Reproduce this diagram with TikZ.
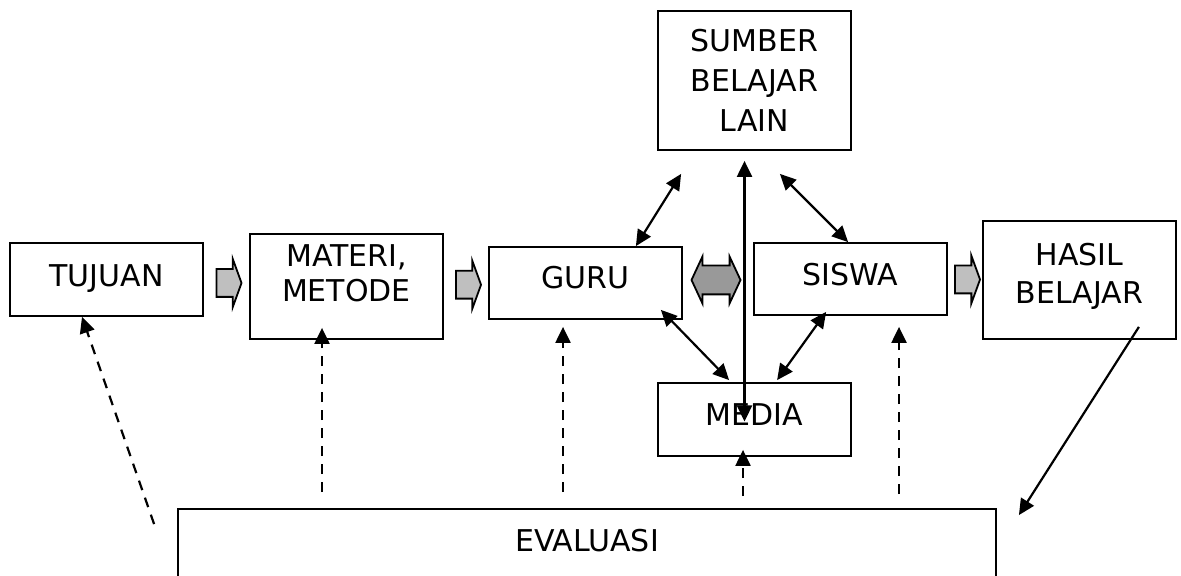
\documentclass[tikz,border=0pt]{standalone}
\usepackage{fontspec}
\setmainfont{DejaVu Sans}
\usetikzlibrary{calc, arrows.meta, shapes.arrows}

\begin{document}
\begin{tikzpicture}[x=0.5pt, y=-0.5pt,
    >={Triangle[length=8pt, width=7.5pt]},
    box/.style={draw, line width=0.9pt, minimum width=96.5pt, align=center, font=\fontsize{15}{19}\selectfont},
    flow/.style={single arrow, draw, fill=gray!50, line width=0.9pt, inner xsep=0pt, inner ysep=6.5pt,
      minimum height=12.5pt, single arrow head extend=5pt, single arrow tip angle=140},
    link/.style={line width=1.1pt},
    check/.style={->, line width=1.1pt, dash pattern=on 5pt off 4pt}]

  \useasboundingbox (0,0) rectangle (1181,576);

  % main row
  \node[box, minimum height=36.5pt, text depth=3.5pt] (tujuan) at (106.5,279.5) {TUJUAN};
  \node[box, minimum height=52.5pt, text depth=13pt, font=\fontsize{15}{17.5}\selectfont] (materi) at (346.5,286.5) {MATERI,\\METODE};
  \node[box, minimum height=36pt, text depth=5.5pt] (guru) at (585.5,283) {GURU};
  \node[box, minimum height=36pt, text depth=4.5pt] (siswa) at (850.5,279) {SISWA};
  \node[box, minimum height=59pt, text depth=7pt] (hasil) at (1079.5,280) {HASIL\\BELAJAR};

  % sources above and below
  \node[box, minimum height=69.5pt, text depth=0pt, font=\fontsize{15}{20}\selectfont] (sumber) at (754.5,80.5) {SUMBER\\BELAJAR\\LAIN};
  \node[box, minimum height=36.5pt, text depth=5pt] (media) at (754.5,419.5) {MEDIA};
  \node[box, minimum width=409pt, minimum height=45.5pt, text depth=14.5pt] (eval) at (587,554.5) {EVALUASI};

  % block arrows between the boxes
  \node[flow] (f1) at ($(tujuan.east)!0.5!(materi.west)$) {};
  \node[flow] (f2) at ($(materi.east)!0.5!(guru.west)$) {};
  \node[flow] (f3) at ($(siswa.east)!0.5!(hasil.west)$) {};
  \node[double arrow, draw, fill=gray!80, line width=0.9pt, inner xsep=0pt, inner ysep=6.75pt, minimum height=24.5pt,
    double arrow head extend=4.5pt, double arrow tip angle=130] (gs) at ($(guru.east)!0.5!(siswa.west)+(-2,-1)$) {};

  % interaction
  \draw[link, <->] ([xshift=12pt, yshift=-11.5pt]sumber.south west) -- ([xshift=-23.5pt]guru.north east);
  \draw[link, <->] ([xshift=-36pt, yshift=-11.5pt]sumber.south east) -- ([xshift=47.5pt]siswa.north west);
  \draw[link, <->] ([xshift=-5pt, yshift=-1pt]media.center) -- ([xshift=-5pt, yshift=-5pt]sumber.south);
  \draw[link, <->] ([xshift=-11pt, yshift=5pt]guru.south east) -- ([xshift=36pt, yshift=1pt]media.north west);
  \draw[link, <->] ([xshift=36.5pt, yshift=2pt]siswa.south west) -- ([xshift=60pt, yshift=1pt]media.north west);
  \draw[link, ->] ([xshift=-19pt, yshift=6.5pt]hasil.south east) -- ([xshift=11pt, yshift=-3.5pt]eval.north east);

  % feedback from evaluasi
  \draw[check] ([xshift=-11.5pt, yshift=-8pt]eval.north west) -- ([xshift=-12.25pt]tujuan.south);
  \draw[check] ($(materi.south |- eval.north)+(-12.25pt,8pt)$) -- ($(materi.south)+(-12.25pt,6pt)$);
  \draw[check] ($(guru.south |- eval.north)+(-11.25pt,8pt)$) -- ($(guru.south)+(-11.25pt,-3.5pt)$);
  \draw[check] ($(media.south |- eval.north)+(-5.75pt,6pt)$) -- ($(media.south)+(-5.75pt,3.5pt)$);
  \draw[check] ($(siswa.south |- eval.north)+(24.25pt,7pt)$) -- ($(siswa.south)+(24.25pt,-5.5pt)$);

\end{tikzpicture}
\end{document}
